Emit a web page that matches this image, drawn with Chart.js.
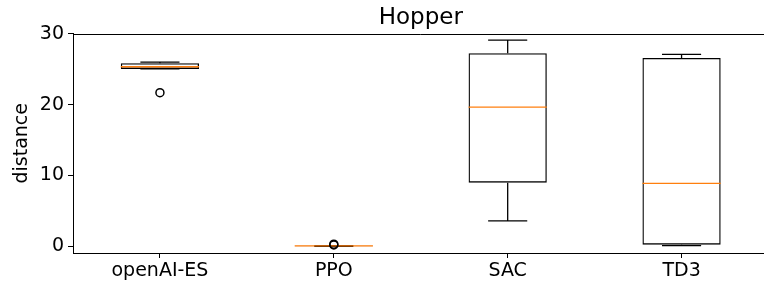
<!DOCTYPE html>
<html>
<head>
<meta charset="utf-8">
<script src="https://cdn.jsdelivr.net/npm/chart.js@4.4.0/dist/chart.umd.min.js"></script>
<style>
    html, body { margin: 0; padding: 0; overflow: hidden; background: #fff; }
    #boxChart { display: block; }
</style>
</head>
<body>
<canvas id="boxChart" width="774" height="289"></canvas>
<script>
// box plot stats per algorithm
var algos = ['openAI-ES', 'PPO', 'SAC', 'TD3'];
var whiskerLow = [25.05, 0.0, 3.6, 0.12];
var q1 = [25.05, 0.04, 9.0, 0.25];
var medians = [25.35, 0.07, 19.65, 8.9];
var q3 = [25.85, 0.1, 27.25, 26.6];
var whiskerHigh = [26.0, 0.12, 29.1, 27.1];
// fliers
var outlierAlgo = ['openAI-ES', 'PPO', 'PPO'];
var outlierValue = [21.7, 0.32, 0.2];
var yTicks = [0, 10, 20, 30];

Chart.defaults.font.family = 'DejaVu Sans';
Chart.defaults.color = '#000';

var boxes = [];
for (var i = 0; i < algos.length; ++i) {
    boxes[i] = [q1[i], q3[i]];
}
var fliers = [];
for (var j = 0; j < outlierAlgo.length; ++j) {
    fliers[j] = {x: outlierAlgo[j], y: outlierValue[j]};
}

// whiskers, caps and medians, drawn right after the boxes
var boxExtras = {
    id: 'boxExtras',
    afterDatasetDraw: function (chart, args) {
        if (args.index !== 0) return;
        var ctx = chart.ctx;
        var xs = chart.scales.x, ys = chart.scales.y;
        var bars = args.meta.data;
        ctx.save();
        ctx.lineCap = 'butt';
        for (var i = 0; i < algos.length; ++i) {
            var cx = xs.getPixelForValue(i);
            var half = bars[i].width / 2;
            var capHalf = half / 2;
            ctx.strokeStyle = '#000';
            ctx.lineWidth = 1.3;
            ctx.beginPath();
            ctx.moveTo(cx, ys.getPixelForValue(q3[i]));
            ctx.lineTo(cx, ys.getPixelForValue(whiskerHigh[i]));
            ctx.moveTo(cx, ys.getPixelForValue(q1[i]));
            ctx.lineTo(cx, ys.getPixelForValue(whiskerLow[i]));
            ctx.moveTo(cx - capHalf, ys.getPixelForValue(whiskerHigh[i]));
            ctx.lineTo(cx + capHalf, ys.getPixelForValue(whiskerHigh[i]));
            ctx.moveTo(cx - capHalf, ys.getPixelForValue(whiskerLow[i]));
            ctx.lineTo(cx + capHalf, ys.getPixelForValue(whiskerLow[i]));
            ctx.stroke();
            ctx.strokeStyle = '#ff7f0e';
            ctx.beginPath();
            ctx.moveTo(cx - half, ys.getPixelForValue(medians[i]));
            ctx.lineTo(cx + half, ys.getPixelForValue(medians[i]));
            ctx.stroke();
        }
        ctx.restore();
    },
    afterDraw: function (chart) {
        var a = chart.chartArea;
        var ctx = chart.ctx;
        ctx.save();
        ctx.strokeStyle = '#000';
        ctx.lineWidth = 1;
        ctx.beginPath();
        ctx.moveTo(a.left, Math.round(a.top) + 0.5);
        ctx.lineTo(a.right, Math.round(a.top) + 0.5);
        ctx.stroke();
        ctx.restore();
    }
};

var boxChart = new Chart(document.getElementById('boxChart').getContext('2d'), {
    type: 'bar',
    data: {
        labels: algos,
        datasets: [{
            label: 'box',
            data: boxes,
            order: 2,
            backgroundColor: 'rgba(0,0,0,0)',
            borderColor: '#000',
            borderWidth: 1.3,
            borderSkipped: false,
            categoryPercentage: 1,
            barPercentage: 0.45
        }, {
            type: 'line',
            label: 'fliers',
            data: fliers,
            order: 1,
            showLine: false,
            pointStyle: 'circle',
            pointRadius: 4,
            pointBorderWidth: 1.5,
            pointBorderColor: '#000',
            pointBackgroundColor: 'rgba(0,0,0,0)'
        }]
    },
    options: {
        responsive: false,
        maintainAspectRatio: false,
        animation: false,
        layout: {padding: 0},
        plugins: {
            legend: {display: false},
            tooltip: {enabled: false},
            title: {
                display: true,
                text: 'Hopper',
                fullSize: false,
                color: '#000',
                font: {size: 23, weight: 'normal'},
                padding: {top: 4, bottom: 2}
            }
        },
        scales: {
            x: {
                grid: {display: true, drawOnChartArea: false, drawTicks: true, tickLength: 5, color: '#000', offset: false},
                border: {display: true, color: '#000', width: 1},
                ticks: {font: {size: 19}, padding: 2, maxRotation: 0},
                afterFit: function (scale) { scale.height = 36; }
            },
            y: {
                min: -0.93,
                max: 30.03,
                grid: {display: true, drawOnChartArea: false, drawTicks: true, tickLength: 5, color: '#000'},
                border: {display: true, color: '#000', width: 1},
                ticks: {font: {size: 19}, padding: 4},
                afterBuildTicks: function (scale) {
                    scale.ticks = yTicks.map(function (v) { return {value: v}; });
                },
                title: {display: true, text: 'distance', font: {size: 19}, padding: {top: 11, bottom: 0}},
                afterFit: function (scale) { scale.width = 73; }
            }
        }
    },
    plugins: [boxExtras]
});
</script>
</body>
</html>
